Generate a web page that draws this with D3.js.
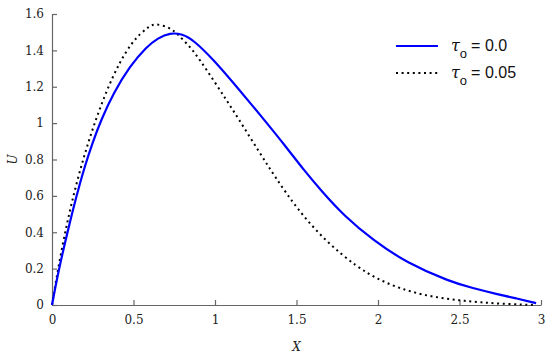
<!DOCTYPE html>
<html lang="en">
<head>
    <meta charset="UTF-8">
    <title></title>
    <script src="https://cdn.jsdelivr.net/npm/d3@7"></script>
    <style>
        body { margin: 0; background: #fff; }
    </style>
</head>
<body>
    <div id="root"></div>
    <script>
        // values
        const xTicks = [0, 0.5, 1, 1.5, 2, 2.5, 3];
        const yTicks = [0, 0.2, 0.4, 0.6, 0.8, 1, 1.2, 1.4, 1.6];

        const tau0X = [0, 0.04, 0.1, 0.15, 0.2, 0.25, 0.3, 0.376, 0.479, 0.58, 0.65, 0.724,
            0.8, 0.867, 0.99, 1.133, 1.296, 1.44, 1.542, 1.66, 1.787, 1.971, 2.176, 2.442, 2.58, 2.73, 2.85, 2.97];
        const tau0U = [0, 0.19, 0.42, 0.6, 0.76, 0.895, 1.015, 1.164, 1.315, 1.42, 1.468, 1.497,
            1.49, 1.457, 1.35, 1.2, 1.025, 0.865, 0.745, 0.62, 0.495, 0.355, 0.232, 0.128, 0.093, 0.06, 0.036, 0.01];

        const tau05X = [0, 0.035, 0.08, 0.13, 0.19, 0.253, 0.33, 0.417, 0.489, 0.54, 0.59, 0.632, 0.724,
            0.765, 0.847, 0.908, 0.99, 1.07, 1.133, 1.276, 1.368, 1.51, 1.685, 1.87, 2.01, 2.17, 2.32, 2.48, 2.63, 2.8, 2.97];
        const tau05U = [0, 0.19, 0.4, 0.6, 0.8, 0.98, 1.17, 1.34, 1.44, 1.49, 1.528, 1.55, 1.524,
            1.494, 1.42, 1.347, 1.237, 1.127, 1.04, 0.834, 0.705, 0.52, 0.345, 0.21, 0.135, 0.08, 0.047, 0.027, 0.014, 0.005, 0.0];

        const legendLabels = ['0.0', '0.05'];

        const width = 550, height = 357;
        const margin = {left: 52, right: 9, top: 14, bottom: 52};

        const svg = d3.select('#root')
            .append('svg')
            .attr('width', width)
            .attr('height', height);

        const x = d3.scaleLinear().domain([0, 3]).range([margin.left, width - margin.right]);
        const y = d3.scaleLinear().domain([0, 1.6]).range([height - margin.bottom, margin.top]);

        const axisColor = '#666';
        const fontSerif = '"DejaVu Serif", serif';

        // x axis, ticks pointing up
        const gx = svg.append('g')
            .attr('transform', `translate(0,${y(0)})`)
            .call(d3.axisBottom(x).tickValues(xTicks).tickFormat(d3.format('')).tickSizeInner(-5).tickSizeOuter(0).tickPadding(10));
        // y axis, ticks pointing right
        const gy = svg.append('g')
            .attr('transform', `translate(${x(0)},0)`)
            .call(d3.axisLeft(y).tickValues(yTicks).tickFormat(d3.format('')).tickSizeInner(-5).tickSizeOuter(0).tickPadding(8));

        [gx, gy].forEach(g => {
            g.selectAll('path, line').attr('stroke', axisColor).attr('stroke-width', 1.2);
            g.selectAll('text').attr('fill', '#222').style('font-family', fontSerif).style('font-size', '12px');
        });

        svg.append('text')
            .attr('x', x(1.5))
            .attr('y', 351)
            .attr('text-anchor', 'middle')
            .style('font-family', fontSerif)
            .style('font-style', 'italic')
            .style('font-size', '12px')
            .attr('fill', '#222')
            .text('X');

        svg.append('text')
            .attr('transform', `translate(17,${y(0.8)}) rotate(-90)`)
            .attr('text-anchor', 'middle')
            .style('font-family', fontSerif)
            .style('font-style', 'italic')
            .style('font-size', '12px')
            .attr('fill', '#222')
            .text('U');

        // basis curve smooths out the small reading errors
        const line = d3.line()
            .x(d => x(d[0]))
            .y(d => y(d[1]))
            .curve(d3.curveBasis);

        const blueData = tau0X.map((v, i) => [v, tau0U[i]]);
        const dotData = tau05X.map((v, i) => [v, tau05U[i]]);

        svg.append('path')
            .datum(dotData)
            .attr('d', line)
            .attr('fill', 'none')
            .attr('stroke', '#000')
            .attr('stroke-width', 2)
            .attr('stroke-dasharray', '2,3.6');

        svg.append('path')
            .datum(blueData)
            .attr('d', line)
            .attr('fill', 'none')
            .attr('stroke', '#0000ff')
            .attr('stroke-width', 2.2);

        // legend
        const legend = svg.append('g');
        const styles = [
            {stroke: '#0000ff', dash: null, width: 2.2},
            {stroke: '#000', dash: '2,3.6', width: 2}
        ];
        legendLabels.forEach((lab, i) => {
            const ly = 46 + i * 27;
            legend.append('line')
                .attr('x1', 396).attr('x2', 438)
                .attr('y1', ly).attr('y2', ly)
                .attr('stroke', styles[i].stroke)
                .attr('stroke-width', styles[i].width)
                .attr('stroke-dasharray', styles[i].dash);
            const t = legend.append('text')
                .attr('x', 451)
                .attr('y', ly + 5)
                .attr('fill', '#111')
                .style('font-family', '"Liberation Sans", Arial, sans-serif')
                .style('font-size', '16px');
            t.append('tspan').style('font-family', fontSerif).style('font-style', 'italic').text('τ');
            t.append('tspan').attr('dy', 7).style('font-size', '13px').text('o');
            t.append('tspan').attr('dy', -7).attr('dx', 4).text('= ' + lab);
        });
    </script>
</body>
</html>
